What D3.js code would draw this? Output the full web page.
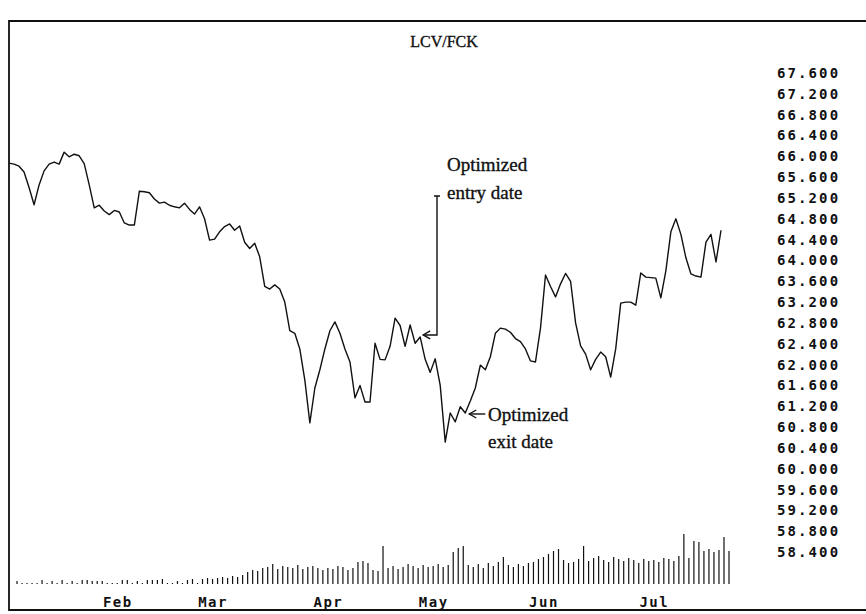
<!DOCTYPE html>
<html>
<head>
<meta charset="utf-8">
<script src="https://cdn.jsdelivr.net/npm/d3@7"></script>
<style>
  html, body { margin: 0; padding: 0; background: #fff; }
  svg { display: block; }
</style>
</head>
<body>
<script>
/* global d3 */

const title = 'LCV/FCK'

// one value per trading day, split by month
const priceJan = [65.87, 65.85, 65.81, 65.70, 65.40, 65.07, 65.45, 65.72, 65.85, 65.89, 65.85, 66.08, 65.99, 66.04, 66.01, 65.86, 65.45, 65.01, 65.06, 64.95]
const priceFeb = [64.88, 64.96, 64.93, 64.72, 64.68, 64.68, 65.33, 65.32, 65.30, 65.18, 65.10, 65.12, 65.06, 65.03, 65.01, 65.10, 64.98, 64.89, 65.03]
const priceMar = [64.80, 64.39, 64.41, 64.55, 64.65, 64.70, 64.58, 64.66, 64.35, 64.23, 64.33, 64.07, 63.50, 63.45, 63.53, 63.45, 63.20, 62.65, 62.60, 62.30, 61.70, 60.88, 61.55]
const priceApr = [61.90, 62.30, 62.65, 62.82, 62.60, 62.30, 62.05, 61.36, 61.60, 61.28, 61.28, 62.41, 62.10, 62.09, 62.35, 62.89, 62.75, 62.35, 62.76, 62.41, 62.53]
const priceMay = [62.10, 61.85, 62.11, 61.60, 60.51, 61.07, 60.90, 61.19, 61.07, 61.30, 61.55, 61.99, 61.90, 62.15, 62.60, 62.70, 62.68, 62.62, 62.50, 62.44, 62.30, 62.07]
const priceJun = [62.05, 62.70, 63.72, 63.50, 63.30, 63.55, 63.75, 63.60, 62.80, 62.36, 62.20, 61.90, 62.10, 62.24, 62.15, 61.76, 62.30, 63.18, 63.20, 63.20, 63.14, 63.76]
const priceJul = [63.68, 63.67, 63.66, 63.28, 63.80, 64.55, 64.80, 64.50, 64.05, 63.74, 63.70, 63.68, 64.35, 64.50, 63.97, 64.58]

const volJan = [3, 1, 1, 1, 1, 4, 1, 3, 1, 4, 1, 3, 1, 4, 4, 3, 3, 3, 1, 1]
const volFeb = [1, 4, 4, 1, 3, 1, 4, 4, 4, 5, 1, 1, 3, 1, 4, 5, 1, 5, 6]
const volMar = [5, 6, 7, 6, 8, 7, 9, 12, 14, 13, 16, 17, 20, 15, 18, 17, 16, 19, 15, 17, 18, 16, 14]
const volApr = [16, 15, 18, 17, 14, 16, 22, 23, 21, 14, 13, 38, 16, 18, 15, 17, 20, 18, 16, 19, 17]
const volMay = [18, 20, 17, 19, 32, 36, 38, 19, 17, 20, 16, 21, 18, 22, 27, 19, 17, 20, 18, 21, 22, 25]
const volJun = [27, 30, 33, 35, 24, 21, 22, 25, 38, 23, 26, 28, 24, 22, 27, 25, 23, 26, 24, 21, 25, 23]
const volJul = [24, 22, 26, 25, 23, 28, 50, 26, 43, 42, 33, 35, 32, 34, 47, 33]

const monthNames = ['Jan', 'Feb', 'Mar', 'Apr', 'May', 'Jun', 'Jul']
const yTicks = [58.4, 58.8, 59.2, 59.6, 60.0, 60.4, 60.8, 61.2, 61.6, 62.0, 62.4, 62.8, 63.2,
  63.6, 64.0, 64.4, 64.8, 65.2, 65.6, 66.0, 66.4, 66.8, 67.2, 67.6]

// annotated days (trading-day index)
const entryDay = 82
const exitDay = 91

const priceMonths = [priceJan, priceFeb, priceMar, priceApr, priceMay, priceJun, priceJul]
const volMonths = [volJan, volFeb, volMar, volApr, volMay, volJun, volJul]
const price = priceMonths.flat()
const volume = volMonths.flat()
const monthStart = []
priceMonths.reduce((acc, m) => { monthStart.push(acc); return acc + m.length }, 0)

const W = 866
const H = 614
const ink = '#111'

const svg = d3.select('body').append('svg')
  .attr('width', W)
  .attr('height', H)

svg.append('rect').attr('width', W).attr('height', H).attr('fill', '#fff')

const x = d3.scaleLinear().domain([0, price.length - 1]).range([9, 721])
const xv = d3.scaleLinear().domain([0, price.length - 1]).range([17, 729])
const y = d3.scaleLinear().domain([58.4, 67.6]).range([552, 73])
const yv = d3.scaleLinear().domain([0, 50]).range([584, 534])

// frame
svg.append('path')
  .attr('d', 'M' + (W + 2) + ',21H9V610H' + (W + 2))
  .attr('fill', 'none')
  .attr('stroke', ink)
  .attr('stroke-width', 1.8)

svg.append('text')
  .attr('x', 444)
  .attr('y', 47)
  .attr('text-anchor', 'middle')
  .style('font', '16px "Liberation Serif", serif')
  .attr('fill', ink)
  .attr('stroke', ink)
  .attr('stroke-width', 0.35)
  .text(title)

// price axis on the right
const yAxis = svg.append('g')
  .attr('transform', 'translate(774,0)')
  .call(d3.axisRight(y).tickValues(yTicks).tickFormat(d3.format('.3f')).tickSize(0))
yAxis.select('.domain').remove()
yAxis.selectAll('text')
  .attr('fill', ink)
  .style('font', 'bold 14px "DejaVu Sans Mono", monospace')
  .style('letter-spacing', '2.1px')

// month labels under the volume bars
const xAxis = svg.append('g')
  .attr('transform', 'translate(0,594)')
  .call(d3.axisBottom(xv)
    .tickValues(monthStart.slice(1))
    .tickFormat((d, i) => monthNames[i + 1])
    .tickSize(0))
xAxis.select('.domain').remove()
xAxis.selectAll('text')
  .attr('fill', ink)
  .style('font', 'bold 14px "DejaVu Sans Mono", monospace')
  .style('letter-spacing', '1.5px')

// volume
svg.append('g')
  .selectAll('line')
  .data(volume)
  .join('line')
  .attr('x1', (d, i) => xv(i))
  .attr('x2', (d, i) => xv(i))
  .attr('y1', yv(0))
  .attr('y2', d => yv(d))
  .attr('stroke', ink)
  .attr('stroke-width', 1.2)

// price line
svg.append('path')
  .datum(price)
  .attr('d', d3.line().x((d, i) => x(i)).y(d => y(d)))
  .attr('fill', 'none')
  .attr('stroke', ink)
  .attr('stroke-width', 1.4)
  .attr('stroke-linejoin', 'round')

// annotations
const note = svg.append('g')
  .attr('fill', 'none')
  .attr('stroke', ink)
  .attr('stroke-width', 1.4)

const ex = x(entryDay) + 3
const ey = y(price[entryDay]) - 2
note.append('path').attr('d', 'M434,196H440M437,196V' + ey + 'H' + ex)
note.append('path').attr('d', 'M' + (ex + 7) + ',' + (ey - 4) + 'L' + ex + ',' + ey + 'L' + (ex + 7) + ',' + (ey + 4))

const qx = x(exitDay) + 4
const qy = y(price[exitDay]) + 1
note.append('path').attr('d', 'M' + qx + ',' + qy + 'H' + (qx + 16))
note.append('path').attr('d', 'M' + (qx + 7) + ',' + (qy - 4) + 'L' + qx + ',' + qy + 'L' + (qx + 7) + ',' + (qy + 4))

const labels = [
  { x: 447, y: 171, t: 'Optimized' },
  { x: 447, y: 199, t: 'entry date' },
  { x: 488, y: 421, t: 'Optimized' },
  { x: 488, y: 448, t: 'exit date' }
]
svg.append('g')
  .selectAll('text')
  .data(labels)
  .join('text')
  .attr('x', d => d.x)
  .attr('y', d => d.y)
  .attr('fill', ink)
  .attr('stroke', ink)
  .attr('stroke-width', 0.35)
  .style('font', '19px "Liberation Serif", serif')
  .text(d => d.t)
</script>
</body>
</html>
